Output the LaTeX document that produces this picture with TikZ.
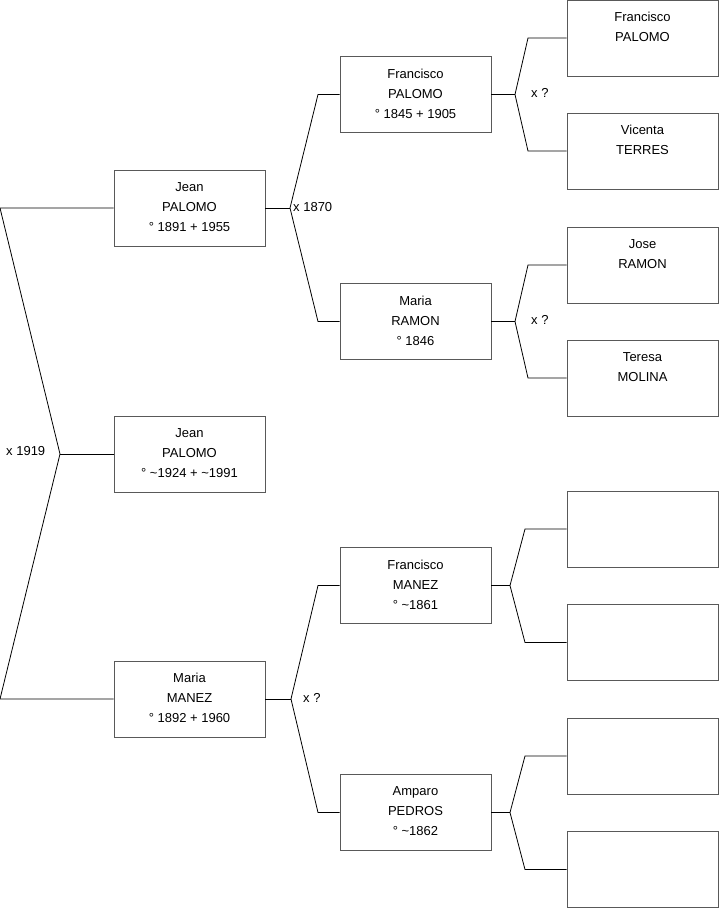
\documentclass[tikz,border=0pt]{standalone}
\usepackage{fontspec}
\setmainfont{Liberation Sans}
\begin{document}
\begin{tikzpicture}[x=1pt,y=-1pt,
  pbox/.style={draw=black!65,line width=0.9pt,minimum width=151pt,minimum height=76pt,inner sep=0pt,fill=white},
  ptext/.style={font=\fontsize{13}{20}\selectfont,align=center,inner sep=0pt,anchor=north},
  lbl/.style={font=\fontsize{13}{15}\selectfont,inner sep=0pt,anchor=west},
  conn/.style={draw=black,line width=0.8pt}]
\useasboundingbox (0,0) rectangle (719,908);
% column 1
\node[pbox] (a) at (189.5,208) {};
\node[pbox] (b) at (189.5,454) {};
\node[pbox] (c) at (189.5,699) {};
% column 2
\node[pbox] (d) at (415.5,94.5) {};
\node[pbox] (e) at (415.5,321.5) {};
\node[pbox] (f) at (415.5,585.5) {};
\node[pbox] (g) at (415.5,812.5) {};
% column 3
\node[pbox] (h1) at (642.5,38) {};
\node[pbox] (h2) at (642.5,151) {};
\node[pbox] (h3) at (642.5,265) {};
\node[pbox] (h4) at (642.5,378) {};
\node[pbox] (h5) at (642.5,529) {};
\node[pbox] (h6) at (642.5,642.5) {};
\node[pbox] (h7) at (642.5,756) {};
\node[pbox] (h8) at (642.5,869.5) {};
% texts
\node[ptext] (at) at ([yshift=-12.5pt]a.north) {Jean\\PALOMO\\° 1891 + 1955};
\node[ptext] (bt) at ([yshift=-12.5pt]b.north) {Jean\\PALOMO\\° \textasciitilde1924 + \textasciitilde1991};
\node[ptext] (ct) at ([yshift=-12.5pt]c.north) {Maria\\MANEZ\\° 1892 + 1960};
\node[ptext] (dt) at ([yshift=-12.5pt]d.north) {Francisco\\PALOMO\\° 1845 + 1905};
\node[ptext] (et) at ([yshift=-12.5pt]e.north) {Maria\\RAMON\\° 1846};
\node[ptext] (ft) at ([yshift=-12.5pt]f.north) {Francisco\\MANEZ\\° \textasciitilde1861};
\node[ptext] (gt) at ([yshift=-12.5pt]g.north) {Amparo\\PEDROS\\° \textasciitilde1862};
\node[ptext] (h1t) at ([yshift=-12.5pt]h1.north) {Francisco\\PALOMO};
\node[ptext] (h2t) at ([yshift=-12.5pt]h2.north) {Vicenta\\TERRES};
\node[ptext] (h3t) at ([yshift=-12.5pt]h3.north) {Jose\\RAMON};
\node[ptext] (h4t) at ([yshift=-12.5pt]h4.north) {Teresa\\MOLINA};
% connectors: root
\coordinate (r0) at (0,208);
\coordinate (r1) at (60,454);
\coordinate (r2) at (0,699);
\draw[conn] (a.west) -- (r0) -- (r1) -- (r2) -- (c.west);
\draw[conn] (r1) -- (b.west);
\node[lbl] (l1) at (6,451.5) {x 1919};
% a -> d,e
\coordinate (s1) at (290,208);
\draw[conn] (a.east) -- (s1);
\draw[conn] (s1) -- (318,94.5) -- (d.west);
\draw[conn] (s1) -- (318,321.5) -- (e.west);
\node[lbl] (l2) at (293,207.5) {x 1870};
% c -> f,g
\coordinate (s2) at (291,699);
\draw[conn] (c.east) -- (s2);
\draw[conn] (s2) -- (318,585.5) -- (f.west);
\draw[conn] (s2) -- (318,812.5) -- (g.west);
\node[lbl] (l3) at (303,697.5) {x ?};
% d -> h1,h2
\coordinate (s3) at (515,94.5);
\draw[conn] (d.east) -- (s3);
\draw[conn] (s3) -- (528,38) -- (h1.west);
\draw[conn] (s3) -- (528,151) -- (h2.west);
\node[lbl] (l4) at (531,92.5) {x ?};
% e -> h3,h4
\coordinate (s4) at (515,321.5);
\draw[conn] (e.east) -- (s4);
\draw[conn] (s4) -- (528,265) -- (h3.west);
\draw[conn] (s4) -- (528,378) -- (h4.west);
\node[lbl] (l5) at (531,319.5) {x ?};
% f -> h5,h6
\coordinate (s5) at (510,585.5);
\draw[conn] (f.east) -- (s5);
\draw[conn] (s5) -- (525,529) -- (h5.west);
\draw[conn] (s5) -- (525,642.5) -- (h6.west);
% g -> h7,h8
\coordinate (s6) at (510,812.5);
\draw[conn] (g.east) -- (s6);
\draw[conn] (s6) -- (525,756) -- (h7.west);
\draw[conn] (s6) -- (525,869.5) -- (h8.west);
\end{tikzpicture}
\end{document}
